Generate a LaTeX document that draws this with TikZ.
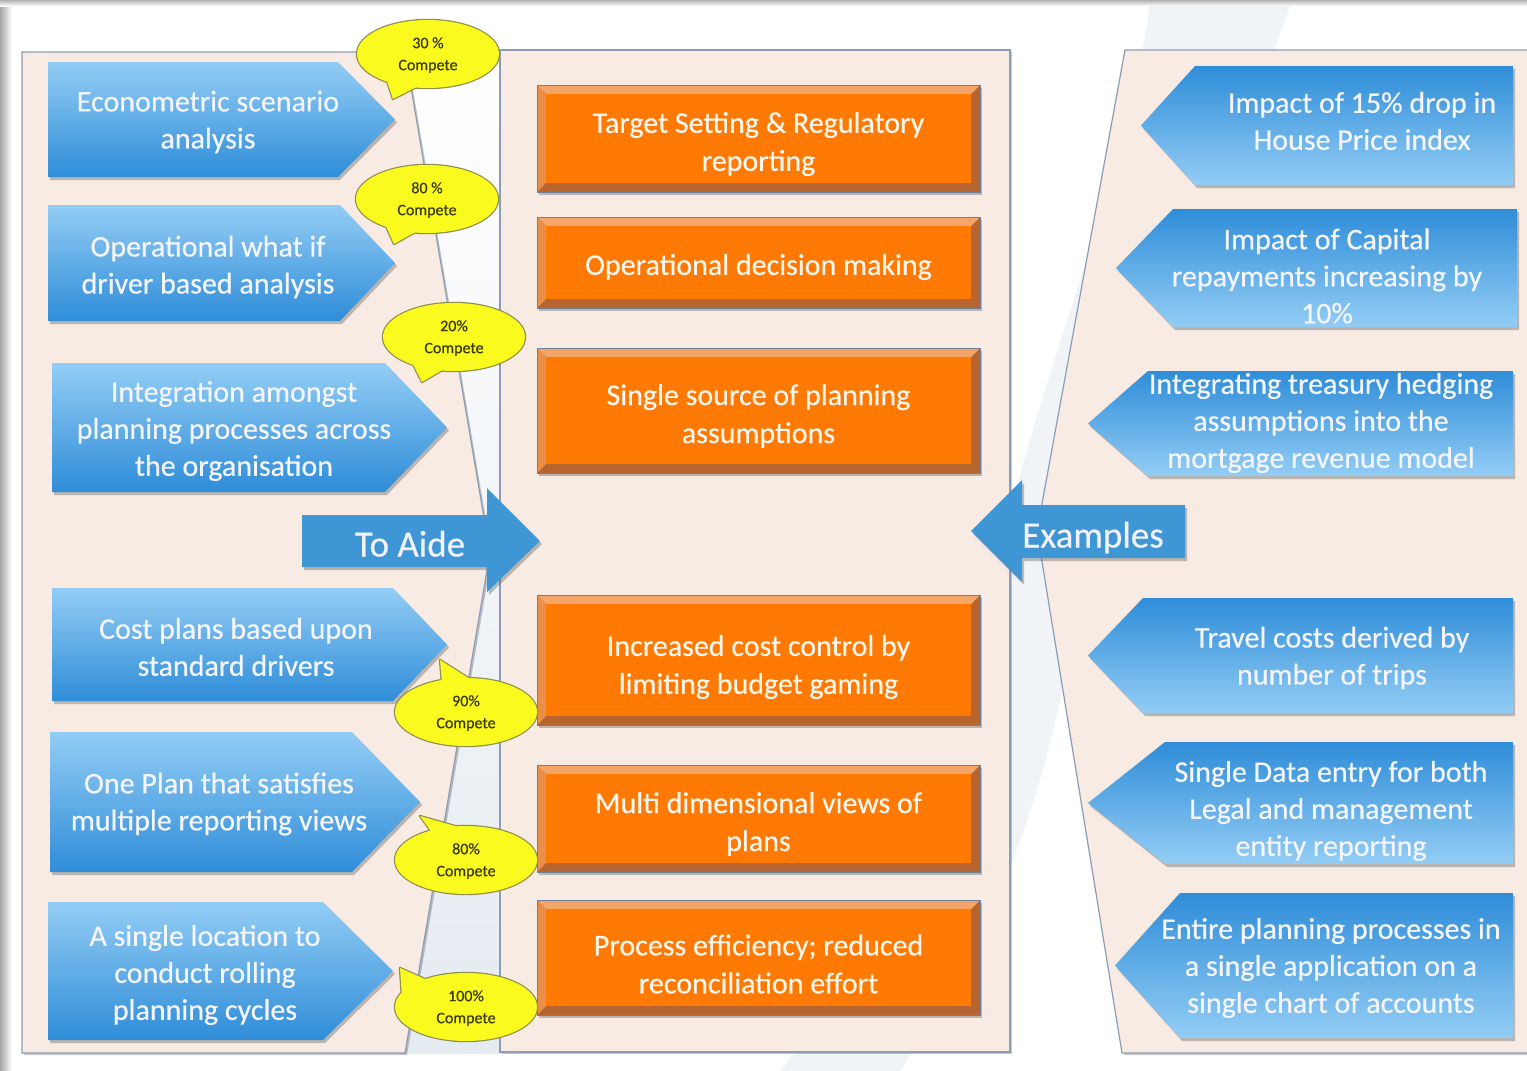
\documentclass[tikz,border=0pt]{standalone}
\usepackage{fontspec}
\setmainfont{Carlito}
\newfontfamily\boxfont[FakeBold=0.45]{Carlito}
\usetikzlibrary{shadows}
\definecolor{peach}{HTML}{F7EBE4}
\definecolor{pborder}{HTML}{8C9DB3}
\definecolor{bluelt}{HTML}{93CDF5}
\definecolor{bluedk}{HTML}{2F8DD8}
\definecolor{bigblue}{HTML}{3E96D5}
\definecolor{orangein}{HTML}{FF7A05}
\definecolor{orangelt}{HTML}{F4A669}
\definecolor{orangeml}{HTML}{E98F49}
\definecolor{orangedk}{HTML}{B8642F}
\definecolor{obordercol}{HTML}{6F819A}
\definecolor{callfill}{HTML}{FAFA1E}
\definecolor{callborder}{HTML}{8E8E4E}
\definecolor{calltextcol}{HTML}{3A3A00}
\definecolor{gapblue}{HTML}{E4EBF1}
\definecolor{swooshcol}{HTML}{E6ECF2}

\newcommand\LArr[9]{%
  \path[larr] (#2,#3) -- (#5,#3) -- (#6,{(#3+#4)/2}) -- (#5,#4) -- (#2,#4) -- cycle;
  \node[arrtext] (#1) at (#7,#8) {#9};}
\newcommand\RArr[9]{%
  \path[rarr] (#2,#3) -- (#5,#3) -- (#6,{(#3+#4)/2}) -- (#5,#4) -- (#2,#4) -- cycle;
  \node[arrtext] (#1) at (#7,#8) {#9};}
\newcommand\OBox[5]{%
  \fill[orangedk, ashadow] (537,#2) rectangle (980,#3);
  \fill[orangelt] (537,#2) -- (980,#2) -- (971,{#2+9}) -- (546,{#2+9}) -- cycle;
  \fill[orangeml] (537,#2) -- (546,{#2+9}) -- (546,{#3-9}) -- (537,#3) -- cycle;
  \fill[orangein] (546,{#2+9}) rectangle (971,{#3-9});
  \draw[obord] (537,#2) rectangle (980,#3);
  \node[otext] (#1) at (758.5,{#4+3}) {#5};}
\newcommand\Callout[8]{%
  \draw[cborder] (#2,#3) ellipse [x radius=71, y radius=34];
  \draw[cborder] ({#2+71*cos(#4)},{#3+34*sin(#4)}) -- (#6,#7) -- ({#2+71*cos(#5)},{#3+34*sin(#5)});
  \fill[callfill] ({#2+71*cos(#4)},{#3+34*sin(#4)}) -- (#6,#7) -- ({#2+71*cos(#5)},{#3+34*sin(#5)}) -- (#2,#3) -- cycle;
  \fill[callfill] (#2,#3) ellipse [x radius=71, y radius=34];
  \node[ctext] (#1) at (#2,{#3+1}) {#8\\Compete};}

\begin{document}
\begin{tikzpicture}[x=1pt,y=-1pt,
  pshadow/.style={drop shadow={shadow xshift=2pt, shadow yshift=-2pt, opacity=0.22, fill=black}},
  ashadow/.style={drop shadow={shadow xshift=2pt, shadow yshift=-3pt, opacity=0.35, fill=black!70}},
  panel/.style={fill=peach, draw=pborder, line width=1.2pt, pshadow},
  larr/.style={top color=bluelt, bottom color=bluedk, ashadow},
  rarr/.style={top color=bluedk, bottom color=bluelt, ashadow},
  bigarr/.style={fill=bigblue, ashadow},
  obord/.style={draw=obordercol, line width=1pt},
  cborder/.style={draw=callborder, line width=2.4pt, line join=round},
  arrtext/.style={text=white!96!blue, font=\boxfont\fontsize{30}{37}\selectfont, align=center, inner sep=0pt},
  otext/.style={text=white!93!orange, font=\boxfont\fontsize{30}{38}\selectfont, align=center, inner sep=0pt},
  bigtext/.style={text=white!95!blue, font=\boxfont\fontsize{37}{44}\selectfont, inner sep=0pt, text height=0.7em, text depth=0.2em},
  ctext/.style={text=calltextcol, font=\boxfont\fontsize{16}{22}\selectfont, align=center, inner sep=0pt}]
\useasboundingbox (0,0) rectangle (1527,1071);
\fill[white] (0,0) rectangle (1527,1071);
% frame shadow
\shade[left color=black!35, right color=white] (0,0) rectangle (12,1071);
\shade[top color=black!30, bottom color=white] (0,0) rectangle (1527,6);
% faint watermark swoosh
\fill[swooshcol, opacity=0.55] (1150,6) .. controls (1120,200) and (1030,400) .. (1000,560)
  .. controls (960,800) and (880,950) .. (780,1071) -- (900,1071)
  .. controls (980,950) and (1060,800) .. (1080,560)
  .. controls (1120,380) and (1230,180) .. (1290,6) -- cycle;
\shade[top color=white, bottom color=gapblue] (400,52) rectangle (500,1053);
% panels
\path[panel] (22,52) -- (405,52) -- (483.2,513) .. controls (490,553) .. (483.2,593)
  -- (405,1053) -- (22,1053) -- cycle;
\path[panel] (500,50) rectangle (1010,1052);
\path[panel] (1540,50) -- (1125,50) -- (1037,531) -- (1122,1053) -- (1540,1053) -- cycle;
% left arrows
\LArr{l1}{48}{62}{177}{338}{395}{208}{122}{Econometric scenario\\analysis}
\LArr{l2}{48}{205}{321}{340}{395}{208}{267}{Operational what if\\driver based analysis}
\LArr{l3}{52}{363}{492}{385}{447}{234}{431}{Integration amongst\\planning processes across\\the organisation}
\LArr{l4}{52}{588}{701}{393}{447}{236}{647}{Cost plans based upon\\standard drivers}
\LArr{l5}{50}{732}{872}{352}{420}{219}{804}{One Plan that satisfies\\multiple reporting views}
\LArr{l6}{48}{902}{1040}{323}{393}{205}{975}{A single location to\\conduct rolling\\planning cycles}
% right arrows
\RArr{r1}{1513}{66}{185}{1195}{1141}{1362}{121}{Impact of 15\% drop in\\House Price index}
\RArr{r2}{1517}{209}{327}{1173}{1116}{1327}{276}{Impact of Capital\\repayments increasing by\\10\%}
\RArr{r3}{1513}{371}{476}{1148}{1088}{1321}{423}{Integrating treasury hedging\\assumptions into the\\mortgage revenue model}
\RArr{r4}{1513}{598}{713}{1143}{1088}{1332}{658}{Travel costs derived by\\number of trips}
\RArr{r5}{1513}{742}{864}{1165}{1088}{1331}{811}{Single Data entry for both\\Legal and management\\entity reporting}
\RArr{r6}{1513}{893}{1038}{1180}{1115}{1331}{968}{Entire planning processes in\\a single application on a\\single chart of accounts}
% orange boxes
\OBox{o1}{85}{192}{141}{Target Setting \& Regulatory\\reporting}
\OBox{o2}{217}{308}{264}{Operational decision making}
\OBox{o3}{348}{473}{413}{Single source of planning\\assumptions}
\OBox{o4}{595}{725}{664}{Increased cost control by\\limiting budget gaming}
\OBox{o5}{765}{872}{821}{Multi dimensional views of\\plans}
\OBox{o6}{900}{1015}{961}{Process efficiency; reduced\\reconciliation effort}
% big arrows
\path[bigarr] (302,515) -- (487,515) -- (487,488) -- (540,541) -- (487,592) -- (487,567) -- (302,567) -- cycle;
\node[bigtext] (toaide) at (410,554) {To Aide};
\path[bigarr] (1185,505) -- (1022,505) -- (1022,480) -- (971,531) -- (1022,582) -- (1022,558) -- (1185,558) -- cycle;
\node[bigtext] (examples) at (1093,545) {Examples};
% callouts
\Callout{c1}{428}{54}{100}{125}{393}{99}{30 \%}
\Callout{c2}{427}{199}{100}{125}{394}{244}{80 \%}
\Callout{c3}{454}{337}{100}{125}{422}{382}{20\%}
\Callout{c4}{466}{712}{250}{272}{440}{660}{90\%}
\Callout{c5}{466}{860}{240}{262}{420}{816}{80\%}
\Callout{c6}{466}{1007}{205}{235}{400}{968}{100\%}
\end{tikzpicture}
\end{document}
